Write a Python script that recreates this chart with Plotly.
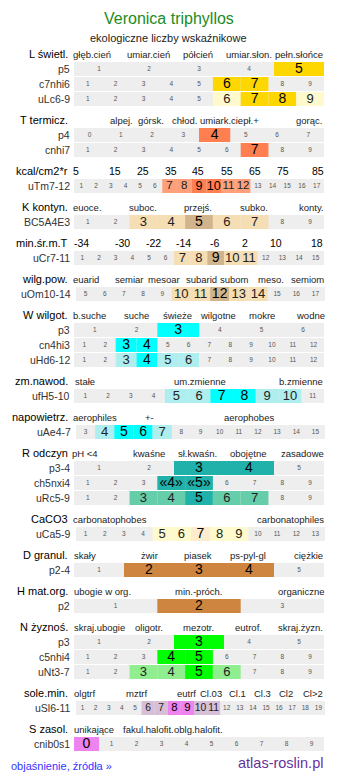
import plotly.graph_objects as go

# ---------------- text ----------------
title = "Veronica triphyllos"
subtitle = "ekologiczne liczby wskaźnikowe"
footer_left = "objaśnienie, źródła »"
footer_right = "atlas-roslin.pl"

# ---------------- data (one block per indicator) ----------------
L_name = "L świetl."
L_cats = ["głęb.cień", "umiar.cień", "półcień", "umiar.słon.", "pełn.słońce"]
L_rows = ["p5", "c7nhi6", "uLc6-9"]
L_lo = [1, 1, 1]
L_hi = [5, 9, 9]
L_strong = [[5], [6, 7], [7, 8]]
L_pale = [[], [], [6, 9]]

T_name = "T termicz."
T_cats = ["alpej.", "górsk.", "chłod.", "umiark.", "ciepł.+", "gorąc."]
T_rows = ["p4", "cnhi7"]
T_lo = [0, 1]
T_hi = [7, 9]
T_strong = [[4], [7]]
T_pale = [[], []]

KC_name = "kcal/cm2*r"
KC_cats = ["5", "15", "25", "35", "45", "55", "65", "75", "85"]
KC_rows = ["uTm7-12"]
KC_lo = [1]
KC_hi = [17]
KC_strong = [[9, 10]]
KC_pale = [[7, 8, 11, 12]]

K_name = "K kontyn."
K_cats = ["euoce.", "suboc.", "przejś.", "subko.", "konty."]
K_rows = ["BC5A4E3"]
K_lo = [1]
K_hi = [9]
K_strong = [[5]]
K_pale = [[3, 4, 6, 7]]

MT_name = "min.śr.m.T"
MT_cats = ["-34", "-30", "-22", "-14", "-6", "2", "10", "18"]
MT_rows = ["uCr7-11"]
MT_lo = [1]
MT_hi = [15]
MT_strong = [[9]]
MT_pale = [[7, 8, 10, 11]]

WP_name = "wilg.pow."
WP_cats = ["euarid", "semiar", "mesoar", "subarid", "subom", "meso.", "semiom"]
WP_rows = ["uOm10-14"]
WP_lo = [5]
WP_hi = [17]
WP_strong = [[12]]
WP_pale = [[10, 11, 13, 14]]

W_name = "W wilgot."
W_cats = ["b.suche", "suche", "świeże", "wilgotne", "mokre", "wodne"]
W_rows = ["p3", "cn4hi3", "uHd6-12"]
W_lo = [1, 1, 1]
W_hi = [6, 12, 12]
W_strong = [[3], [3, 4], [4]]
W_pale = [[], [], [3, 5, 6]]

ZM_name = "zm.nawod."
ZM_cats = ["stałe", "um.zmienne", "b.zmienne"]
ZM_rows = ["ufH5-10"]
ZM_lo = [1]
ZM_hi = [11]
ZM_strong = [[7, 8]]
ZM_pale = [[5, 6, 9, 10]]

NP_name = "napowietrz."
NP_cats = ["aerophiles", "+-", "aerophobes"]
NP_rows = ["uAe4-7"]
NP_lo = [3]
NP_hi = [15]
NP_strong = [[5, 6]]
NP_pale = [[4, 7]]

R_name = "R odczyn"
R_cats = ["pH &lt;4", "kwaśne", "sł.kwaśn.", "obojętne", "zasadowe"]
R_rows = ["p3-4", "ch5nxi4", "uRc5-9"]
R_lo = [1, 1, 1]
R_hi = [5, 9, 9]
R_strong = [[3, 4], [4, 5], [5]]
R_pale = [[], [], [3, 4, 6, 7]]

CA_name = "CaCO3"
CA_cats = ["carbonatophobes", "carbonatophiles"]
CA_rows = ["uCa5-9"]
CA_lo = [1]
CA_hi = [13]
CA_strong = [[7]]
CA_pale = [[5, 6, 8, 9]]

D_name = "D granul."
D_cats = ["skały", "żwir", "piasek", "ps-pyl-gl", "ciężkie"]
D_rows = ["p2-4"]
D_lo = [1]
D_hi = [5]
D_strong = [[2, 3, 4]]
D_pale = [[]]

H_name = "H mat.org."
H_cats = ["ubogie w org.", "min.-próch.", "organiczne"]
H_rows = ["p2"]
H_lo = [1]
H_hi = [3]
H_strong = [[2]]
H_pale = [[]]

N_name = "N żyznoś."
N_cats = ["skraj.ubogie", "oligotr.", "mezotr.", "eutrof.", "skraj.żyzn."]
N_rows = ["p3", "c5nhi4", "uNt3-7"]
N_lo = [1, 1, 1]
N_hi = [5, 9, 9]
N_strong = [[3], [4, 5], [5]]
N_pale = [[], [], [3, 4, 6]]

SM_name = "sole.min."
SM_cats = ["olgtrf", "mztrf", "eutrf", "Cl.03", "Cl.1", "Cl.3", "Cl2", "Cl&gt;2"]
SM_rows = ["uSl6-11"]
SM_lo = [1]
SM_hi = [19]
SM_strong = [[8, 9]]
SM_pale = [[6, 7, 10, 11]]

S_name = "S zasol."
S_cats = ["unikające", "fakul.halofit.", "oblg.halofit."]
S_rows = ["cnib0s1"]
S_lo = [0]
S_hi = [9]
S_strong = [[0]]
S_pale = [[]]

# ---------------- layout / style (not data) ----------------
L_cat_x = [92, 148, 198, 249, 299]
T_cat_x = [121, 151, 184, 215, 245, 309]
KC_cat_x = [76, 115, 143, 171, 198, 227, 255, 283, 318]
K_cat_x = [87, 143, 198, 254, 311]
MT_cat_x = [81, 122, 153, 183, 214, 245, 276, 317]
WP_cat_x = [86, 129, 164, 201, 234, 271, 307]
W_cat_x = [89, 136, 177, 218, 262, 310]
ZM_cat_x = [85, 200, 301]
NP_cat_x = [95, 149, 249]
R_cat_x = [85, 149, 197, 248, 302]
CA_cat_x = [110, 290]
D_cat_x = [85, 149, 198, 248, 308]
H_cat_x = [102, 199, 301]
N_cat_x = [99, 149, 198, 248, 300]
SM_cat_x = [84, 136, 186, 211, 237, 262, 286, 313]
S_cat_x = [94, 148, 198]

GOLD, LEMON = "#FFD700", "#FFFACD"
CORAL, SALMON = "#FF7F50", "#FFA07A"
TAN, WHEAT = "#D2B48C", "#F5DEB3"
AQUA, PALETURQ = "#00FFFF", "#AFEEEE"
SEAGREEN, AQUAMARINE = "#20B2AA", "#66CDAA"
PERU = "#CD853F"
LIME, LIGHTGREEN = "#00FF00", "#90EE90"
VIOLET, THISTLE = "#EE82EE", "#D8BFD8"
GRAY = "#EEEEEE"
FONT = "Liberation Sans, Arial, sans-serif"

sections = [
    (L_name, L_cats, L_cat_x, False, L_rows, L_lo, L_hi, L_strong, L_pale, GOLD, LEMON),
    (T_name, T_cats, T_cat_x, False, T_rows, T_lo, T_hi, T_strong, T_pale, CORAL, SALMON),
    (KC_name, KC_cats, KC_cat_x, True, KC_rows, KC_lo, KC_hi, KC_strong, KC_pale, CORAL, SALMON),
    (K_name, K_cats, K_cat_x, False, K_rows, K_lo, K_hi, K_strong, K_pale, TAN, WHEAT),
    (MT_name, MT_cats, MT_cat_x, True, MT_rows, MT_lo, MT_hi, MT_strong, MT_pale, TAN, WHEAT),
    (WP_name, WP_cats, WP_cat_x, False, WP_rows, WP_lo, WP_hi, WP_strong, WP_pale, TAN, WHEAT),
    (W_name, W_cats, W_cat_x, False, W_rows, W_lo, W_hi, W_strong, W_pale, AQUA, PALETURQ),
    (ZM_name, ZM_cats, ZM_cat_x, False, ZM_rows, ZM_lo, ZM_hi, ZM_strong, ZM_pale, AQUA, PALETURQ),
    (NP_name, NP_cats, NP_cat_x, False, NP_rows, NP_lo, NP_hi, NP_strong, NP_pale, AQUA, PALETURQ),
    (R_name, R_cats, R_cat_x, False, R_rows, R_lo, R_hi, R_strong, R_pale, SEAGREEN, AQUAMARINE),
    (CA_name, CA_cats, CA_cat_x, False, CA_rows, CA_lo, CA_hi, CA_strong, CA_pale, "#FFEBCD", LEMON),
    (D_name, D_cats, D_cat_x, False, D_rows, D_lo, D_hi, D_strong, D_pale, PERU, PERU),
    (H_name, H_cats, H_cat_x, False, H_rows, H_lo, H_hi, H_strong, H_pale, PERU, PERU),
    (N_name, N_cats, N_cat_x, False, N_rows, N_lo, N_hi, N_strong, N_pale, LIME, LIGHTGREEN),
    (SM_name, SM_cats, SM_cat_x, False, SM_rows, SM_lo, SM_hi, SM_strong, SM_pale, VIOLET, THISTLE),
    (S_name, S_cats, S_cat_x, False, S_rows, S_lo, S_hi, S_strong, S_pale, VIOLET, THISTLE),
]

WIDE_LABEL_ROWS = {"uOm10-14", "uAe4-7", "uCa5-9", "uSl6-11"}
BRACKET_ROWS = {"ch5nxi4"}

W_PX, H_PX = 337, 781
shapes, anns = [], []
sx, sy, st = [], [], []
bx, by, bt, bs, bc = [], [], [], [], []


def ann(text, x, y, size, color="#000", anchor="center"):
    anns.append(dict(text=text, x=x, y=y, xref="x", yref="y", showarrow=False,
                     xanchor=anchor, yanchor="middle", borderpad=0,
                     font=dict(family=FONT, size=size, color=color)))


ann(title, 168.5, 18, 16, "#228B22")
ann(subtitle, 168.5, 38, 11, "#222")

y = 54
for (name, cats, cat_x, bigcats, rows, lo, hi, strong, pale, c_strong, c_pale) in sections:
    hy = y
    ann(name, 69, hy, 11, "#000", "right")
    for t, cx in zip(cats, cat_x):
        ann(t, cx, hy, 10.5 if bigcats else 9.5, "#000" if bigcats else "#222")
    ry = hy
    for i, rname in enumerate(rows):
        ry = hy + 15 + 15 * i
        if rname in WIDE_LABEL_ROWS:
            x0, x1, lx = 76, 325, 72
        else:
            x0, x1, lx = 74, 324, 71
        ann(rname, lx, ry, 10.5, "#333", "right")
        vals = list(range(lo[i], hi[i] + 1))
        n = len(vals)
        w = (x1 - x0) / n
        shapes.append(dict(type="rect", xref="x", yref="y", x0=x0, x1=x1,
                           y0=ry - 7, y1=ry + 7, line=dict(width=0),
                           fillcolor=GRAY, layer="below"))
        big_size = 14 if w >= 18 else round(0.8 * w + 0.8, 1)
        for j, v in enumerate(vals):
            cx0 = x0 + j * w
            cx = cx0 + w / 2
            if v in strong[i] or v in pale[i]:
                is_strong = v in strong[i]
                col = c_strong if is_strong else c_pale
                shapes.append(dict(type="rect", xref="x", yref="y", x0=cx0,
                                   x1=cx0 + w, y0=ry - 7, y1=ry + 7,
                                   line=dict(width=0), fillcolor=col,
                                   layer="below"))
                bx.append(cx)
                by.append(ry + 0.5)
                bt.append(f"«{v}»" if rname in BRACKET_ROWS else str(v))
                bs.append(big_size if is_strong else big_size - 1)
                bc.append("#000" if is_strong else "#222")
            else:
                sx.append(cx)
                sy.append(ry)
                st.append(str(v))
    y = ry + 21

ann(footer_left, 10, 766, 11, "#3333FF", "left")
ann(footer_right, 324, 763, 14.5, "#663399", "right")

fig = go.Figure()
fig.add_trace(go.Scatter(x=sx, y=sy, text=st, mode="text", hoverinfo="skip",
                         textposition="middle center",
                         textfont=dict(family=FONT, size=6.5, color="#555")))
fig.add_trace(go.Scatter(x=bx, y=by, text=bt, mode="text", hoverinfo="skip",
                         textposition="middle center",
                         textfont=dict(family=FONT, size=bs, color=bc)))
fig.update_layout(
    width=W_PX, height=H_PX, margin=dict(l=0, r=0, t=0, b=0, pad=0),
    paper_bgcolor="white", plot_bgcolor="white", showlegend=False,
    xaxis=dict(range=[0, W_PX], visible=False, fixedrange=True),
    yaxis=dict(range=[H_PX, 0], visible=False, fixedrange=True),
    shapes=shapes, annotations=anns,
)
fig.write_html("out.html", config={"displayModeBar": False})
